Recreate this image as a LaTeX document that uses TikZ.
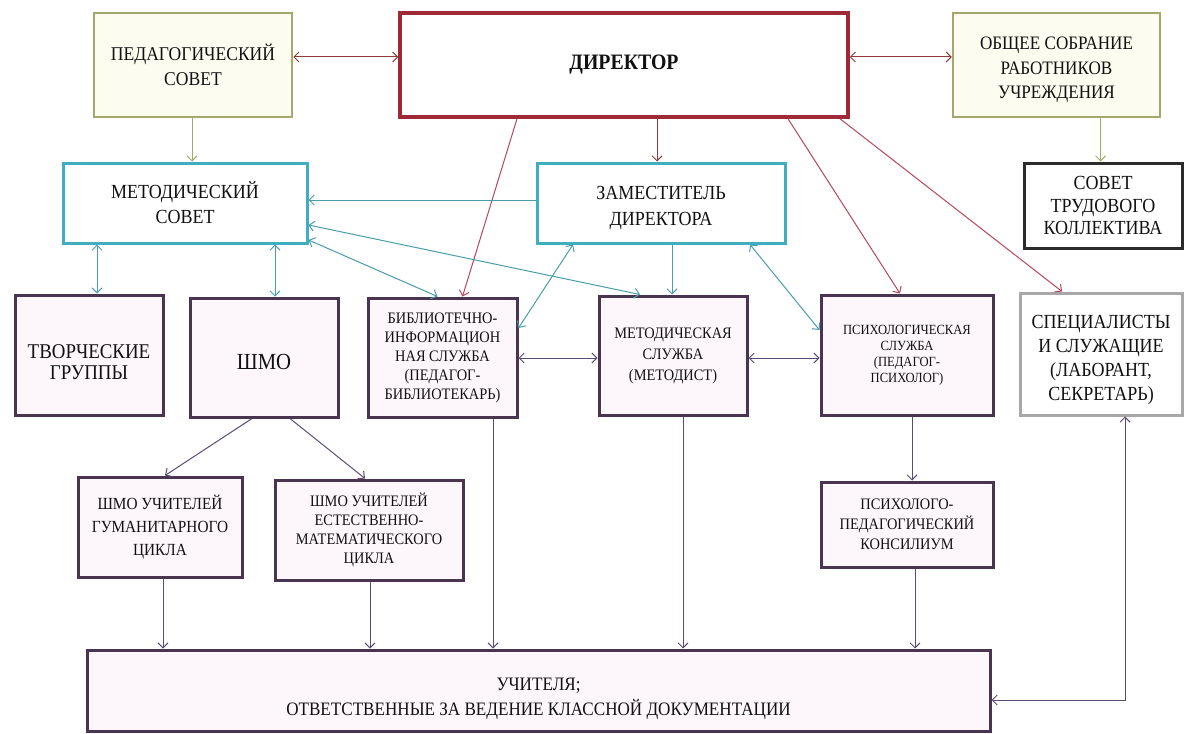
\documentclass[tikz,border=0pt]{standalone}
\usepackage{fontspec}
\setmainfont{Liberation Serif}[FakeStretch=0.9]
\usetikzlibrary{arrows.meta}
\definecolor{olive}{HTML}{A4A86C}
\definecolor{dirred}{HTML}{9E2A38}
\definecolor{arrred}{HTML}{8E3B3B}
\definecolor{diagred}{HTML}{B5485A}
\definecolor{cyanb}{HTML}{3FAFC0}
\definecolor{cyanl}{HTML}{4B9DAA}
\definecolor{purpb}{HTML}{4A3550}
\definecolor{purpl}{HTML}{5B4A72}
\definecolor{darkb}{HTML}{2B2B2B}
\definecolor{grayb}{HTML}{A8A8A8}
\definecolor{pinkfill}{HTML}{FDF7FB}
\definecolor{ivory}{HTML}{FCFCF0}
\definecolor{txt}{HTML}{111111}
\newcommand{\lift}[1]{\rule{0pt}{#1}}
\begin{document}
\begin{tikzpicture}[x=1pt,y=-1pt,
  base/.style={draw, rectangle, align=center, inner sep=1pt, text=txt},
  obox/.style={base, draw=olive, line width=2.5pt, fill=ivory},
  rbox/.style={base, draw=dirred, line width=3.5pt, fill=white},
  cbox/.style={base, draw=cyanb, line width=3pt, fill=white},
  pbox/.style={base, draw=purpb, line width=3pt, fill=pinkfill},
  kbox/.style={base, draw=darkb, line width=3pt, fill=white},
  gbox/.style={base, draw=grayb, line width=3pt, fill=white},
  tip/.tip={Straight Barb[length=5pt,width=10pt]},
  con/.style={line width=1pt},
  redc/.style={con, draw=arrred},
  diagc/.style={con, draw=diagred},
  oliv/.style={con, draw=olive},
  cyc/.style={con, draw=cyanl},
  puc/.style={con, draw=purpl},
  f/.style 2 args={font=\fontsize{#1}{#2}\selectfont}
]
\useasboundingbox (0,0) rectangle (1185,733);
\fill[white] (0,0) rectangle (1185,733);

% top row
\node[obox, f={19.5}{25}, minimum width=198pt, minimum height=104pt] (ped) at (193,65) {ПЕДАГОГИЧЕСКИЙ\\СОВЕТ};
\node[rbox, font=\fontsize{22}{26}\selectfont\bfseries, minimum width=448pt, minimum height=104pt] (dir) at (624,65) {ДИРЕКТОР};
\node[obox, f={19}{24.5}, minimum width=207pt, minimum height=104pt] (obsh) at (1056.5,65) {\lift{23pt}ОБЩЕЕ СОБРАНИЕ\\РАБОТНИКОВ\\УЧРЕЖДЕНИЯ};

% second row
\node[cbox, f={20}{25}, minimum width=244pt, minimum height=80pt] (metsov) at (185,203) {МЕТОДИЧЕСКИЙ\\СОВЕТ};
\node[cbox, f={20}{26}, minimum width=248pt, minimum height=80pt] (zam) at (661,203) {\lift{24pt}ЗАМЕСТИТЕЛЬ\\ДИРЕКТОРА};
\node[kbox, f={20}{22.5}, minimum width=158pt, minimum height=85pt] (sovtr) at (1103,205.5) {СОВЕТ\\ТРУДОВОГО\\КОЛЛЕКТИВА};

% third row
\node[pbox, f={21}{21}, minimum width=148pt, minimum height=120pt] (tvor) at (89,355) {\lift{29pt}ТВОРЧЕСКИЕ\\ГРУППЫ};
\node[pbox, f={23}{26}, minimum width=148pt, minimum height=119pt] (shmo) at (264,357.5) {\lift{25pt}ШМО};
\node[pbox, f={16}{19}, minimum width=149pt, minimum height=119pt] (bibl) at (442.5,357.5) {БИБЛИОТЕЧНО-\\ИНФОРМАЦИОН\\НАЯ СЛУЖБА\\(ПЕДАГОГ-\\БИБЛИОТЕКАРЬ)};
\node[pbox, f={16}{21}, minimum width=148pt, minimum height=119pt] (metsl) at (673,355.5) {МЕТОДИЧЕСКАЯ\\СЛУЖБА\\(МЕТОДИСТ)};
\node[pbox, f={14}{16}, minimum width=172pt, minimum height=120pt] (psih) at (907,355) {ПСИХОЛОГИЧЕСКАЯ\\СЛУЖБА\\(ПЕДАГОГ-\\ПСИХОЛОГ)};
\node[gbox, f={20}{24}, minimum width=162pt, minimum height=122pt] (spec) at (1101,354) {\lift{26pt}СПЕЦИАЛИСТЫ\\И СЛУЖАЩИЕ\\(ЛАБОРАНТ,\\СЕКРЕТАРЬ)};

% fourth row
\node[pbox, f={17}{23}, minimum width=164pt, minimum height=100pt] (gum) at (160,527) {ШМО УЧИТЕЛЕЙ\\ГУМАНИТАРНОГО\\ЦИКЛА};
\node[pbox, f={16}{19}, minimum width=188pt, minimum height=100pt] (est) at (369,530) {ШМО УЧИТЕЛЕЙ\\ЕСТЕСТВЕННО-\\МАТЕМАТИЧЕСКОГО\\ЦИКЛА};
\node[pbox, f={16}{20}, minimum width=172pt, minimum height=85pt] (kons) at (907,524.5) {ПСИХОЛОГО-\\ПЕДАГОГИЧЕСКИЙ\\КОНСИЛИУМ};

% bottom
\node[pbox, f={19}{25}, minimum width=903pt, minimum height=81pt] (uch) at (538.5,690.5) {\lift{29pt}УЧИТЕЛЯ;\\ОТВЕТСТВЕННЫЕ ЗА ВЕДЕНИЕ КЛАССНОЙ ДОКУМЕНТАЦИИ};

% director links
\draw[redc, tip-tip] ([yshift=8pt]ped.east) -- ([yshift=8pt]dir.west);
\draw[redc, tip-tip] ([yshift=8pt]dir.east) -- ([yshift=8pt]obsh.west);
\draw[redc, -tip] ([xshift=33pt]dir.south) -- ([xshift=-4pt]zam.north);
\draw[diagc, -tip] ([xshift=-107pt]dir.south) -- ([xshift=20pt]bibl.north);
\draw[diagc, -tip] ([xshift=164pt]dir.south) -- ([xshift=-7pt]psih.north);
\draw[diagc, -tip] ([xshift=216pt]dir.south) -- ([xshift=-39pt]spec.north);

% olive links
\draw[oliv, -tip] ([xshift=-1pt]ped.south) -- ([xshift=7pt]metsov.north);
\draw[oliv, -tip] ([xshift=44pt]obsh.south) -- ([xshift=-2.5pt]sovtr.north);

% cyan links
\draw[cyc, -tip] ([yshift=3pt]zam.west) -- ([yshift=3pt]metsov.east);
\draw[cyc, tip-tip] ([yshift=-22pt]metsov.east) -- ([xshift=-33pt]metsl.north);
\draw[cyc, tip-tip] ([yshift=-37pt]metsov.east) -- ([xshift=-5pt]bibl.north);
\draw[cyc, tip-tip] ([xshift=-88pt]metsov.south) -- ([xshift=8pt]tvor.north);
\draw[cyc, tip-tip] ([xshift=90pt]metsov.south) -- ([xshift=11pt]shmo.north);
\draw[cyc, tip-tip] ([xshift=-88pt]zam.south) -- ([yshift=29.5pt]bibl.east);
\draw[cyc, -tip] ([xshift=11pt]zam.south) -- ([xshift=-1pt]metsl.north);
\draw[cyc, tip-tip] ([xshift=89pt]zam.south) -- ([yshift=25pt]psih.west);

% purple links
\draw[puc, tip-tip] ([yshift=-0.5pt]bibl.east) -- ([yshift=-2.5pt]metsl.west);
\draw[puc, tip-tip] ([yshift=-2.5pt]metsl.east) -- ([yshift=-3pt]psih.west);
\draw[puc, -tip] ([xshift=-12pt]shmo.south) -- ([xshift=5pt]gum.north);
\draw[puc, -tip] ([xshift=26pt]shmo.south) -- ([xshift=-4pt]est.north);
\draw[puc, -tip] ([xshift=5pt]psih.south) -- ([xshift=5pt]kons.north);
\draw[puc, -tip] ([xshift=3pt]gum.south) -- ([xshift=3pt]gum.south |- uch.north);
\draw[puc, -tip] ([xshift=1pt]est.south) -- ([xshift=1pt]est.south |- uch.north);
\draw[puc, -tip] ([xshift=50.5pt]bibl.south) -- ([xshift=50.5pt]bibl.south |- uch.north);
\draw[puc, -tip] ([xshift=10pt]metsl.south) -- ([xshift=10pt]metsl.south |- uch.north);
\draw[puc, -tip] ([xshift=8pt]kons.south) -- ([xshift=8pt]kons.south |- uch.north);
\coordinate (corner) at (1125,700);
\draw[puc, tip-tip] ([yshift=-9.5pt]uch.east) -- (corner) -- ([xshift=24pt]spec.south);
\end{tikzpicture}
\end{document}
